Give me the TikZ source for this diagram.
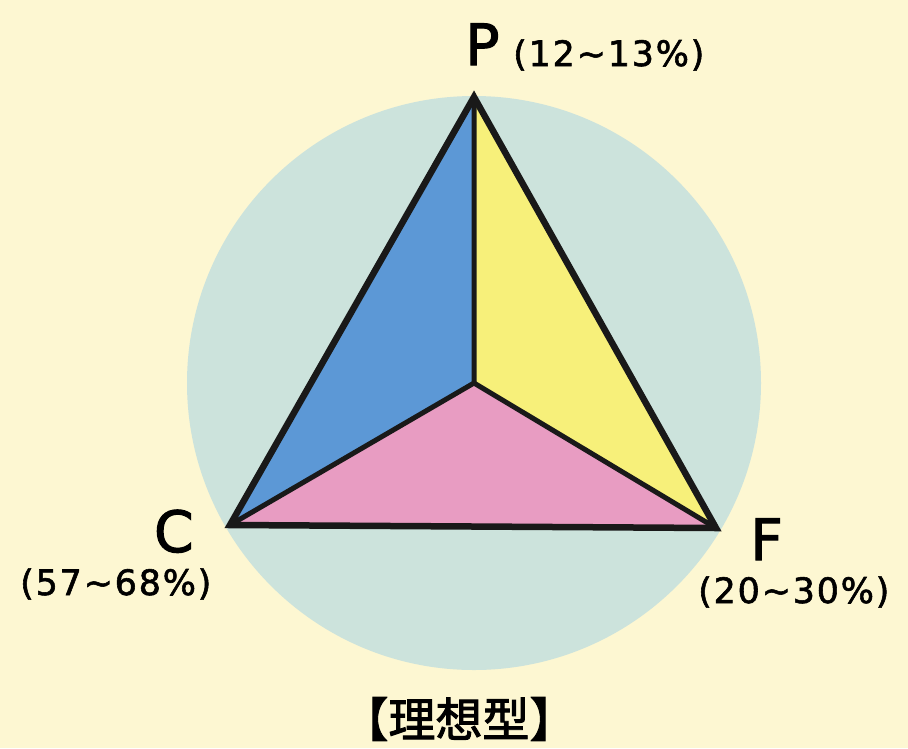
\documentclass[tikz,border=0pt]{standalone}
\usepackage{fontspec}
\setmainfont{DejaVu Sans}[LetterSpace=5,FakeBold=1.6]
\newfontfamily\bigf[FakeBold=1.8]{DejaVu Sans}
\newfontfamily\cjkb[FakeBold=2]{Noto Sans CJK JP}
\definecolor{bgc}{HTML}{FDF7D2}
\definecolor{circc}{HTML}{CCE3DC}
\definecolor{bluec}{HTML}{5C98D6}
\definecolor{yelc}{HTML}{F7F07A}
\definecolor{pinkc}{HTML}{E89CC2}
\begin{document}
\begin{tikzpicture}[x=1pt,y=-1pt,
  edge/.style={line width=6.5pt,line join=miter,draw=black!90},
  big/.style={font=\bigf\fontsize{57}{57}\selectfont,inner sep=0pt},
  pct/.style={font=\fontsize{35}{35}\selectfont,inner sep=0pt}]
\fill[bgc] (0,0) rectangle (908,748);
\useasboundingbox (0,0) rectangle (908,748);
\coordinate (O) at (474,383);
\coordinate (P) at (474,97);
\coordinate (C) at (230,525);
\coordinate (F) at (716,528);
\fill[circc] (O) circle (287);
\fill[bluec] (P) -- (O) -- (C) -- cycle;
\fill[yelc] (P) -- (F) -- (O) -- cycle;
\fill[pinkc] (C) -- (O) -- (F) -- cycle;
\draw[edge] (P) -- (C) -- (F) -- cycle;
\draw[line width=5pt,draw=black!90] (P) -- (O) (C) -- (O) -- (F);
\node[big,anchor=base west] (pl) at (465,65) {P};
\node[pct,anchor=base west] (pp) at (513,66) {(12\textasciitilde13\%)};
\node[big,anchor=base east] (cl) at (194,552) {C};
\node[pct,anchor=base west] (cp) at (20,595) {(57\textasciitilde68\%)};
\node[big,anchor=base west] (fl) at (750,560) {F};
\node[pct,anchor=base west] (fp) at (698,603) {(20\textasciitilde30\%)};
\node[inner sep=0pt,anchor=center,font=\cjkb\fontsize{47}{47}\selectfont] (title) at (459,719) {【理想型】};
\end{tikzpicture}
\end{document}
